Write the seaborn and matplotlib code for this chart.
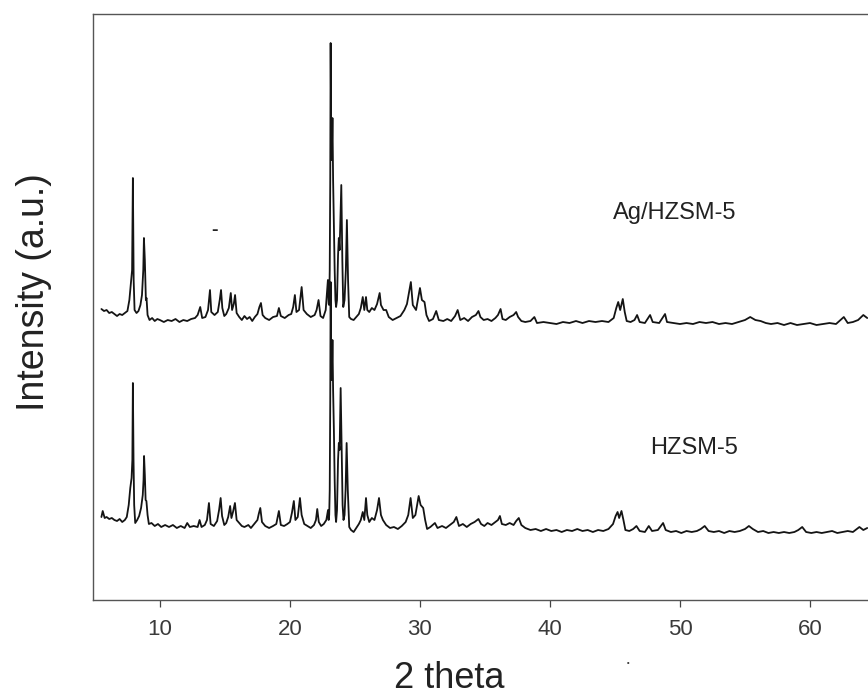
import matplotlib
matplotlib.use("Agg")
import pandas as pd
import matplotlib.pyplot as plt
import seaborn as sns

sns.set_style("ticks")
plt.rcParams['font.family'] = ['Liberation Sans', 'DejaVu Sans']

# ---------------------------------------------------------
# Data (2 theta, intensity a.u.)
# ---------------------------------------------------------
tt_ag = [5.5, 5.7, 5.9, 6.1, 6.3, 6.5, 6.7, 6.9, 7.1, 7.3, 7.5, 7.65, 7.78, 7.86, 7.92, 7.98,
         8.05, 8.2, 8.35, 8.5, 8.62, 8.72, 8.77, 8.84, 8.92, 8.97, 9.05, 9.2, 9.4, 9.6, 9.8,
         10.0, 10.3, 10.6, 10.9, 11.2, 11.5, 11.8, 12.1, 12.4, 12.7, 12.9, 13.1, 13.25, 13.5,
         13.7, 13.85, 13.95, 14.2, 14.45, 14.6, 14.7, 14.8, 14.95, 15.1, 15.3, 15.45, 15.55,
         15.68, 15.78, 15.9, 16.1, 16.3, 16.5, 16.7, 16.9, 17.1, 17.3, 17.5, 17.65, 17.77,
         17.9, 18.1, 18.4, 18.7, 19.0, 19.15, 19.3, 19.6, 19.9, 20.1, 20.25, 20.38, 20.5,
         20.7, 20.9, 21.05, 21.3, 21.6, 21.9, 22.05, 22.2, 22.35, 22.55, 22.75, 22.92, 22.98,
         23.02, 23.06, 23.1, 23.13, 23.17, 23.22, 23.27, 23.32, 23.38, 23.44, 23.5, 23.55,
         23.62, 23.7, 23.76, 23.82, 23.95, 24.03, 24.1, 24.2, 24.3, 24.38, 24.47, 24.56,
         24.7, 24.9, 25.1, 25.3, 25.45, 25.6, 25.72, 25.85, 25.95, 26.1, 26.3, 26.5, 26.7,
         26.9, 27.0, 27.2, 27.4, 27.6, 27.9, 28.2, 28.5, 28.8, 29.0, 29.3, 29.45, 29.7, 29.9,
         30.0, 30.15, 30.35, 30.5, 30.7, 31.0, 31.25, 31.45, 31.8, 32.1, 32.4, 32.7, 32.9,
         33.1, 33.4, 33.7, 34.0, 34.3, 34.5, 34.65, 34.9, 35.2, 35.5, 35.8, 36.0, 36.2, 36.35,
         36.6, 36.9, 37.2, 37.4, 37.55, 37.8, 38.1, 38.5, 38.8, 39.0, 39.5, 40.0, 40.5, 41.0,
         41.5, 42.0, 42.5, 43.0, 43.5, 44.0, 44.5, 44.9, 45.1, 45.25, 45.4, 45.6, 45.75, 45.9,
         46.2, 46.5, 46.7, 46.9, 47.3, 47.7, 47.9, 48.4, 48.85, 49.0, 49.5, 50.0, 50.5, 51.0,
         51.5, 52.0, 52.5, 53.0, 53.5, 54.0, 54.5, 55.0, 55.4, 55.8, 56.2, 56.6, 57.0, 57.5,
         58.0, 58.5, 59.0, 59.5, 60.0, 60.5, 61.0, 61.5, 62.0, 62.6, 62.9, 63.3, 63.7, 64.1,
         64.4]
int_ag = [291, 289, 290, 287, 288, 286, 284, 286, 285, 287, 289, 300, 318, 330, 422, 320,
          290, 287, 289, 295, 305, 330, 362, 340, 300, 302, 285, 280, 282, 279, 281,
          280, 278, 280, 279, 281, 278, 280, 279, 281, 282, 285, 293, 282, 283,
          290, 310, 288, 285, 288, 300, 310, 292, 284, 286, 292, 307, 290,
          296, 305, 287, 283, 280, 284, 281, 283, 279, 283, 286, 293, 297,
          285, 282, 280, 283, 284, 292, 284, 282, 285, 286, 293, 305, 288,
          290, 313, 290, 286, 283, 285, 290, 300, 284, 282, 290, 320, 296,
          295, 330, 420, 557, 470, 440, 482, 420, 377, 330, 300, 293,
          300, 345, 362, 350, 415, 340, 293, 300, 330, 380, 320, 283,
          281, 280, 283, 286, 292, 303, 290, 303, 290, 288, 292, 290, 296,
          307, 295, 290, 290, 283, 280, 282, 284, 290, 296, 318, 295, 290, 305,
          312, 300, 298, 285, 279, 281, 289, 280, 279, 281, 279, 284, 290,
          280, 282, 279, 283, 285, 289, 283, 280, 281, 279, 282, 285, 291, 281,
          280, 283, 285, 288, 283, 279, 278, 279, 283, 277, 278, 277, 276, 278,
          277, 279, 277, 279, 278, 279, 278, 282, 292, 298, 290, 301, 288, 279,
          278, 280, 285, 278, 277, 285, 278, 277, 286, 278, 277, 276, 277, 276,
          278, 277, 278, 276, 277, 276, 278, 280, 283, 280, 279, 277, 276, 277,
          275, 277, 275, 276, 277, 275, 276, 277, 276, 283, 277, 278, 280, 285,
          282]

tt_h = [5.5, 5.6, 5.75, 5.9, 6.1, 6.3, 6.5, 6.7, 6.9, 7.1, 7.3, 7.45, 7.6, 7.72, 7.82, 7.88,
        7.92, 7.97, 8.02, 8.1, 8.25, 8.4, 8.55, 8.68, 8.74, 8.78, 8.84, 8.9, 8.96, 9.05, 9.15,
        9.35, 9.6, 9.85, 10.1, 10.4, 10.7, 11.0, 11.3, 11.6, 11.9, 12.1, 12.3, 12.6, 12.9,
        13.05, 13.2, 13.45, 13.62, 13.77, 13.9, 14.15, 14.4, 14.55, 14.67, 14.78, 14.95,
        15.1, 15.25, 15.4, 15.5, 15.62, 15.77, 15.9, 16.1, 16.3, 16.5, 16.8, 17.0, 17.25,
        17.5, 17.6, 17.72, 17.85, 18.1, 18.4, 18.7, 18.95, 19.15, 19.3, 19.55, 19.8, 20.0,
        20.15, 20.3, 20.42, 20.6, 20.77, 20.9, 21.1, 21.35, 21.6, 21.85, 22.0, 22.1, 22.22,
        22.4, 22.6, 22.8, 22.93, 22.98, 23.02, 23.06, 23.1, 23.13, 23.17, 23.22, 23.27,
        23.32, 23.38, 23.44, 23.5, 23.55, 23.62, 23.7, 23.76, 23.82, 23.9, 23.98, 24.05,
        24.12, 24.2, 24.28, 24.36, 24.45, 24.56, 24.7, 24.9, 25.1, 25.3, 25.45, 25.6, 25.72,
        25.85, 25.95, 26.1, 26.3, 26.5, 26.7, 26.85, 27.0, 27.15, 27.4, 27.7, 28.0, 28.3,
        28.6, 28.9, 29.1, 29.28, 29.45, 29.65, 29.9, 30.05, 30.25, 30.4, 30.55, 30.8, 31.15,
        31.35, 31.7, 32.0, 32.3, 32.6, 32.8, 33.0, 33.3, 33.6, 33.9, 34.2, 34.5, 34.7, 34.95,
        35.2, 35.5, 35.8, 36.0, 36.15, 36.3, 36.6, 36.9, 37.2, 37.4, 37.6, 37.8, 38.1, 38.5,
        38.9, 39.3, 39.7, 40.1, 40.5, 40.9, 41.3, 41.7, 42.1, 42.5, 42.9, 43.3, 43.7, 44.1,
        44.5, 44.85, 45.05, 45.2, 45.32, 45.5, 45.65, 45.8, 46.1, 46.4, 46.65, 46.9, 47.3,
        47.6, 47.85, 48.3, 48.7, 48.9, 49.3, 49.7, 50.1, 50.5, 50.9, 51.3, 51.6, 51.9, 52.2,
        52.6, 53.0, 53.4, 53.8, 54.2, 54.6, 55.0, 55.3, 55.6, 56.0, 56.4, 56.8, 57.2, 57.6,
        58.0, 58.4, 58.8, 59.1, 59.4, 59.7, 60.1, 60.5, 60.9, 61.3, 61.7, 62.1, 62.5, 62.9,
        63.3, 63.8, 64.1, 64.4]
int_h = [83, 89, 82, 83, 81, 82, 80, 79, 81, 78, 80, 83, 95, 112, 122, 140,
         217, 140, 95, 77, 80, 84, 92, 105, 120, 144, 125, 100, 99, 85, 76,
         77, 74, 76, 73, 75, 73, 75, 72, 74, 72, 77, 73, 74, 73,
         80, 73, 75, 80, 97, 76, 74, 79, 90, 102, 84, 75,
         77, 83, 94, 82, 88, 97, 80, 77, 74, 73, 75, 72, 76,
         80, 86, 92, 78, 74, 72, 74, 76, 89, 75, 74, 76, 78,
         87, 99, 80, 83, 102, 85, 76, 74, 72, 75, 80, 91, 78,
         74, 76, 80, 90, 80, 85, 110, 200, 318, 240, 220, 260,
         210, 170, 120, 85, 78, 90, 140, 157, 150, 212, 150, 95,
         80, 85, 110, 157, 110, 73, 70, 68, 72, 76, 80, 88, 80,
         102, 85, 78, 82, 80, 90, 102, 85, 80, 75, 72, 73, 71,
         74, 78, 85, 102, 82, 85, 104, 95, 92, 80, 71, 73, 77,
         72, 74, 72, 75, 78, 83, 74, 76, 73, 76, 78, 81, 76, 74,
         77, 75, 78, 80, 84, 76, 75, 77, 75, 79, 82, 75, 72, 70,
         71, 69, 71, 69, 70, 68, 70, 69, 71, 69, 70, 68, 70, 69,
         71, 76, 84, 88, 82, 89, 80, 70, 69, 71, 74, 69, 68,
         74, 69, 70, 77, 70, 68, 69, 67, 69, 68, 69, 71, 74, 69,
         68, 69, 67, 69, 68, 69, 71, 74, 71, 68, 69, 67, 68, 67,
         68, 67, 68, 70, 73, 68, 67, 68, 67, 68, 69, 67, 68, 69,
         68, 73, 70, 72]

sample_names = ['Ag/HZSM-5', 'HZSM-5']
x_ticks = [10, 20, 30, 40, 50, 60]

df = pd.concat([
    pd.DataFrame({'two_theta': tt_ag, 'intensity': int_ag, 'sample': sample_names[0]}),
    pd.DataFrame({'two_theta': tt_h, 'intensity': int_h, 'sample': sample_names[1]}),
])

# ---------------------------------------------------------
# Figure
# ---------------------------------------------------------
fig = plt.figure(figsize=(8.68, 6.98), dpi=100)
ax = fig.add_axes([0.1071, 0.1404, 0.8929, 0.8395])

sns.lineplot(data=df, x='two_theta', y='intensity', units='sample', estimator=None,
             sort=False, color='#141414', lw=1.3, ax=ax)

ax.set_xlim(4.85, 64.46)
ax.set_ylim(0, 586)
ax.set_xticks(x_ticks)
ax.set_yticks([])
ax.tick_params(axis='x', direction='out', length=5, width=0.9, color='#444',
               labelsize=16, labelcolor='#3a3a3a', pad=9)
for side in ['left', 'top', 'bottom']:
    ax.spines[side].set_color('#555')
    ax.spines[side].set_linewidth(1.0)
ax.spines['right'].set_visible(False)

ax.set_xlabel('2 theta', fontsize=26, color='#222')
ax.xaxis.set_label_coords(0.46, -0.104)
ax.set_ylabel('Intensity (a.u.)', fontsize=27, color='#222')
ax.yaxis.set_label_coords(-0.053, 0.5256)

# sample labels
ax.text(49.6, 387, sample_names[0], ha='center', va='center', fontsize=17, color='#222')
ax.text(51.1, 152, sample_names[1], ha='center', va='center', fontsize=17, color='#222')

# stray marks present in the scanned figure
ax.text(14.2, 370, '-', ha='center', va='center', fontsize=14, fontweight='bold', color='#222')
fig.text(628 / 868, 1 - 663 / 698, '·', ha='center', va='center', fontsize=14, color='#444')

fig.savefig('out.png', dpi=100)
